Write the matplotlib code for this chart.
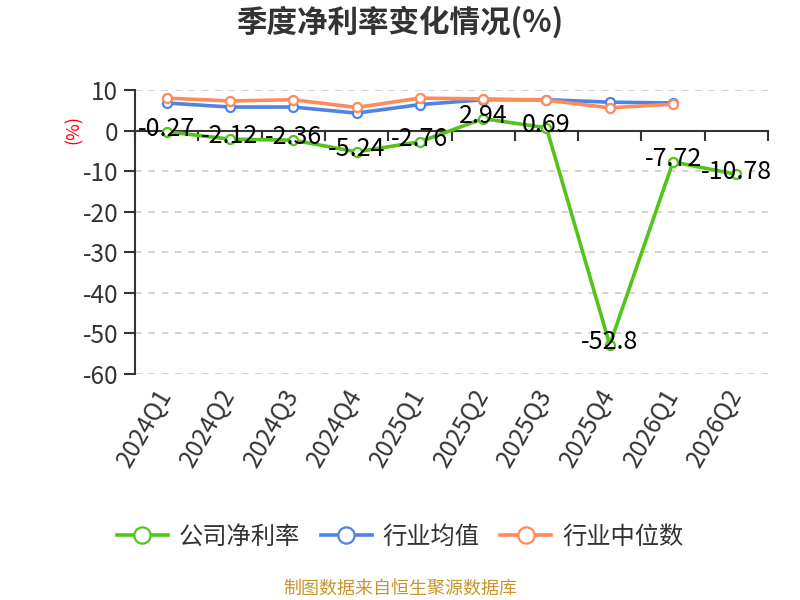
import matplotlib
matplotlib.use("Agg")
import matplotlib.pyplot as plt
import numpy as np

plt.rcParams['font.family'] = ['Noto Sans CJK SC', 'DejaVu Sans']

categories = ['2024Q1', '2024Q2', '2024Q3', '2024Q4', '2025Q1',
              '2025Q2', '2025Q3', '2025Q4', '2026Q1', '2026Q2']
company = [-0.27, -2.12, -2.36, -5.24, -2.76, 2.94, 0.69, -52.8, -7.72, -10.78]
industry_avg = [6.8, 5.8, 5.8, 4.3, 6.4, 7.6, 7.6, 7.0, 6.8]
industry_median = [8.0, 7.3, 7.6, 5.7, 8.0, 7.8, 7.5, 5.6, 6.5]
y_ticks = [10, 0, -10, -20, -30, -40, -50, -60]

GREEN = '#52c41a'
BLUE = '#4f83e6'
ORANGE = '#ff8a5b'
TXT = '#333333'

fig = plt.figure(figsize=(8, 6), dpi=100)
ax = fig.add_axes([135/800, 1-374/600, (768-135)/800, (374-90)/600])

x = np.arange(len(categories))
ax.plot(x, company, color=GREEN, lw=2.6, marker='o', ms=6.5,
        mfc='white', mec=GREEN, mew=1.6, zorder=3, label='公司净利率')
ax.plot(x[:len(industry_avg)], industry_avg, color=BLUE, lw=2.6, marker='o', ms=6.5,
        mfc='white', mec=BLUE, mew=1.6, zorder=4, label='行业均值')
ax.plot(x[:len(industry_median)], industry_median, color=ORANGE, lw=2.6, marker='o', ms=6.5,
        mfc='white', mec=ORANGE, mew=1.6, zorder=5, label='行业中位数')

for xi, v in zip(x, company):
    ax.annotate(f'{v:g}', (xi, v), xytext=(0, 2), textcoords='offset points',
                ha='center', va='center', fontsize=18, color='black', zorder=10)

ax.set_xlim(-0.5, len(categories) - 0.5)
ax.set_ylim(-60, 10)
ax.set_yticks(y_ticks)
ax.set_yticklabels([str(t) for t in y_ticks])
ax.yaxis.grid(True, linestyle=(0, (4, 4)), color='#cccccc', lw=1.2)
ax.set_axisbelow(True)

for s in ['right', 'bottom']:
    ax.spines[s].set_visible(False)
ax.spines['left'].set_color(TXT)
ax.spines['left'].set_linewidth(1.5)
ax.spines['top'].set_position(('data', 0))
ax.spines['top'].set_color(TXT)
ax.spines['top'].set_linewidth(1.5)
ax.spines['top'].set_zorder(2)

ax.set_xticks(x)
ax.set_xticklabels(categories, rotation=60, ha='right', va='center',
                   rotation_mode='anchor', fontsize=17.5, color=TXT)
ax.set_xticks(np.arange(len(categories) + 1) - 0.5, minor=True)
ax.tick_params(axis='x', which='major', bottom=True, top=False, length=0, pad=12)
ax.tick_params(axis='x', which='minor', bottom=False, top=True, direction='in',
               length=7, width=1.5, color=TXT)
ax.tick_params(axis='y', which='major', length=8, width=1.5, color=TXT,
               labelsize=17.5, labelcolor=TXT, pad=4)

ax.set_ylabel('(%)', color='red', fontsize=13, labelpad=12)
ax.yaxis.set_label_coords(-0.083, 0.86)

fig.text(0.5, 1-22/600, '季度净利率变化情况(%)', ha='center', va='center',
         fontsize=22, fontweight='bold', color=TXT)

leg = fig.legend(loc='center', bbox_to_anchor=(0.5, 1-537/600), ncol=3,
                 frameon=False, fontsize=17.5, handlelength=2.1, handletextpad=0.45,
                 columnspacing=0.85, markerscale=1.8)
for t in leg.get_texts():
    t.set_color(TXT)

fig.text(0.5, 1-589/600, '制图数据来自恒生聚源数据库', ha='center', va='center',
         fontsize=13, color='#c8962d')

fig.savefig('out.png', dpi=100)
